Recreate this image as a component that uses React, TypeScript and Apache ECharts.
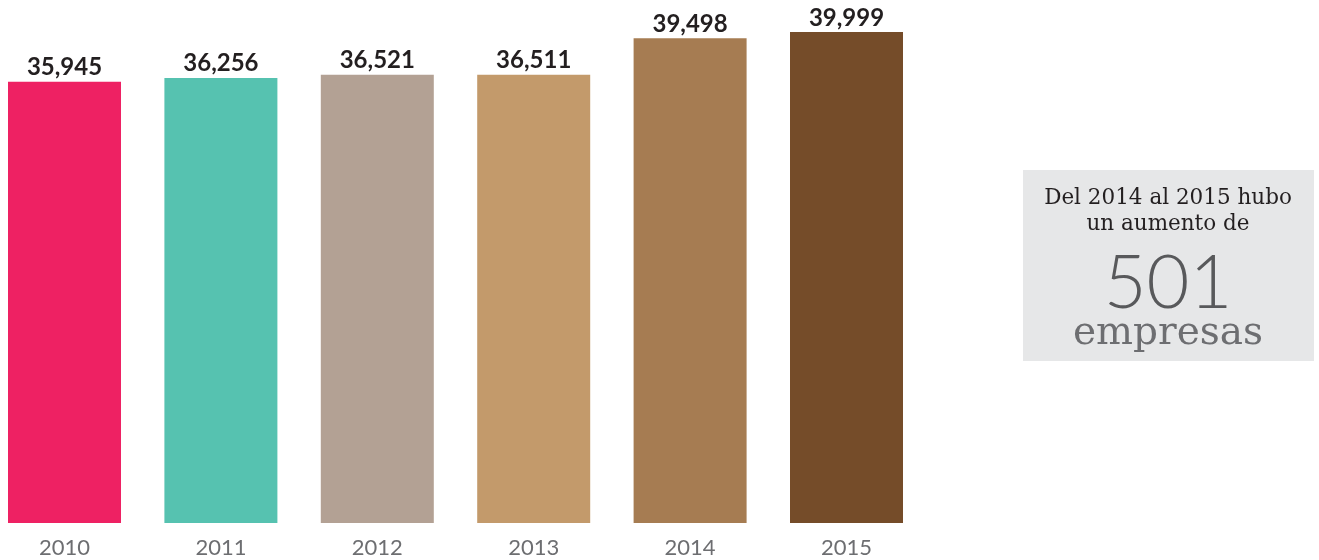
import React, { useEffect, useRef } from "react";
import * as echarts from "echarts";

const years = ["2010", "2011", "2012", "2013", "2014", "2015"];
const values = [35945, 36256, 36521, 36511, 39498, 39999];
const barColors = ["#ee2163", "#56c2b0", "#b3a194", "#c39a6b", "#a67c52", "#754c29"];
const noteLines = ["Del 2014 al 2015 hubo", "un aumento de"];
const noteNumber = "501";
const noteUnit = "empresas";

export default function App() {
  const ref = useRef<HTMLDivElement>(null);
  useEffect(() => {
    if (!ref.current) return;
    const chart = echarts.init(ref.current, null, { renderer: "svg" });
    chart.setOption({
      animation: false,
      grid: { left: 64.5, width: 782, top: 32, height: 491 },
      xAxis: {
        type: "category",
        data: years,
        boundaryGap: false,
        axisLine: { show: false },
        axisTick: { show: false },
        splitLine: { show: false },
        axisLabel: { color: "#6d6e71", fontSize: 22, fontFamily: "Lato", margin: 12 },
      },
      yAxis: { type: "value", min: 0, max: 40000, show: false, splitLine: { show: false } },
      series: [
        {
          type: "bar",
          barWidth: 113,
          clip: false,
          data: values.map((v, i) => ({ value: v, itemStyle: { color: barColors[i] } })),
          label: {
            show: true,
            position: "top",
            distance: 4,
            color: "#231f20",
            fontSize: 24,
            fontWeight: "bold",
            fontFamily: "Lato",
            formatter: (p: any) => p.value.toLocaleString("en-US"),
          },
        },
      ],
      graphic: [
        { type: "rect", shape: { x: 1023, y: 170, width: 291, height: 191 }, style: { fill: "#e6e7e8" } },
        {
          type: "text",
          x: 1168,
          y: 196,
          style: { text: noteLines[0], fill: "#231f20", fontSize: 21.5, lineHeight: 24, fontFamily: "DejaVu Serif", align: "center", verticalAlign: "middle" },
        },
        {
          type: "text",
          x: 1168,
          y: 222,
          style: { text: noteLines[1], fill: "#231f20", fontSize: 21.5, lineHeight: 24, fontFamily: "DejaVu Serif", align: "center", verticalAlign: "middle" },
        },
        {
          type: "text",
          x: 1168,
          y: 250,
          style: {
            text: "{n|" + noteNumber + "}\n{u|" + noteUnit + "}",
            align: "center",
            verticalAlign: "top",
            rich: {
              n: { fill: "#58595b", fontSize: 74, lineHeight: 58, fontWeight: 300, fontFamily: "Lato", align: "center" },
              u: { fill: "#6d6e71", fontSize: 39, lineHeight: 44, fontFamily: "DejaVu Serif", align: "center" },
            },
          },
        },
      ],
    });
    return () => chart.dispose();
  }, []);
  return <div ref={ref} style={{ position: "fixed", left: 0, top: 0, width: 1319, height: 560 }} />;
}
